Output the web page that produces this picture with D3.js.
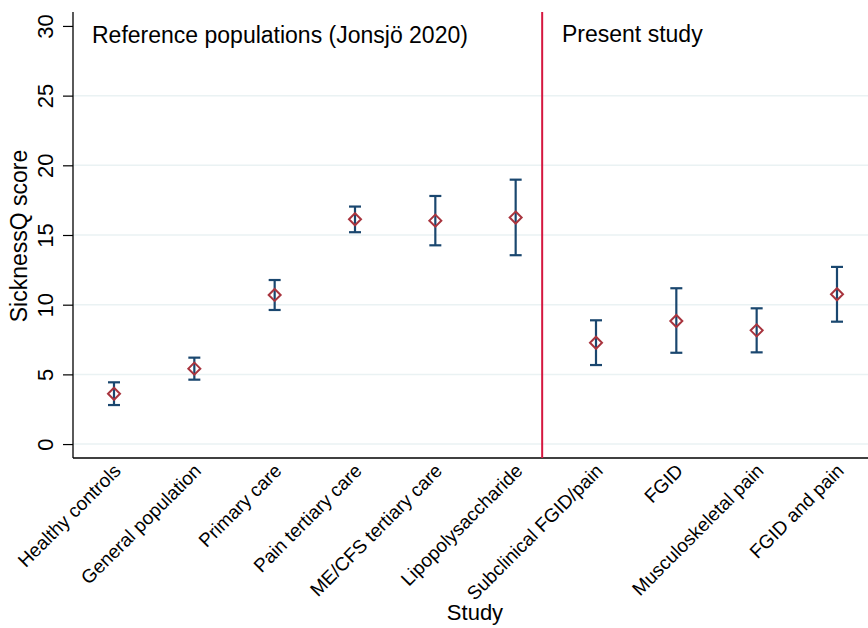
<!DOCTYPE html>
<html><head><meta charset="utf-8">
<script src="https://cdn.jsdelivr.net/npm/d3@7"></script>
<style>body{margin:0;background:#fff}svg{display:block}text{font-family:"Liberation Sans",Arial,Helvetica,sans-serif;fill:#000}</style>
</head><body>
<svg id="c" width="868" height="628"></svg>
<script>
const categories = ["Healthy controls","General population","Primary care","Pain tertiary care","ME/CFS tertiary care","Lipopolysaccharide","Subclinical FGID/pain","FGID","Musculoskeletal pain","FGID and pain"];
const means = [3.61, 5.41, 10.7, 16.13, 16.03, 16.25, 7.27, 8.83, 8.16, 10.75];
const lower = [2.8, 4.62, 9.62, 15.2, 14.26, 13.55, 5.67, 6.55, 6.58, 8.78];
const upper = [4.43, 6.2, 11.77, 17.04, 17.8, 18.97, 8.88, 11.18, 9.74, 12.71];
const yTicks = [0, 5, 10, 15, 20, 25, 30];
const gridValues = [0, 5, 10, 15, 20, 25];
const dividerPosition = 6.33;
const groupLabels = ["Reference populations (Jonsjö 2020)", "Present study"];

const svg = d3.select("#c");
const L = 73, R = 868, T = 12, B = 458;
const x = d3.scaleLinear().domain([0.4896, 10.386]).range([L, R]);
const y = d3.scaleLinear().domain([-1, 31]).range([B, T]);

// gridlines
svg.append("g").selectAll("line").data(gridValues).join("line")
  .attr("x1", L).attr("x2", R).attr("y1", d => y(d)).attr("y2", d => y(d))
  .attr("stroke", "#eaf2f3").attr("stroke-width", 1.5);

// y axis
const ya = svg.append("g").attr("transform", `translate(${L},0)`)
  .call(d3.axisLeft(y).tickValues(yTicks).tickSize(10));
ya.select(".domain").remove();
ya.selectAll(".tick line").attr("stroke", "#000").attr("stroke-width", 1.2);
ya.selectAll(".tick text").attr("font-size", 22).attr("x", 0).attr("y", 0).attr("dy", null)
  .attr("text-anchor", "middle").attr("transform", "translate(-20,0) rotate(-90)");
svg.append("line").attr("x1", L).attr("x2", L).attr("y1", T).attr("y2", B)
  .attr("stroke", "#000").attr("stroke-width", 1.3);

// x axis
svg.append("line").attr("x1", L).attr("x2", R).attr("y1", B).attr("y2", B)
  .attr("stroke", "#000").attr("stroke-width", 1.3);
svg.append("g").selectAll("text").data(categories).join("text")
  .attr("transform", (d, i) => `translate(${x(i + 1) + 8},${B + 14}) rotate(-45)`)
  .attr("text-anchor", "end").attr("font-size", 19).text(d => d);

// divider
svg.append("line").attr("x1", x(dividerPosition)).attr("x2", x(dividerPosition))
  .attr("y1", T).attr("y2", B).attr("stroke", "#d5173f").attr("stroke-width", 2);

// group labels
svg.append("text").attr("x", 92).attr("y", 43).attr("font-size", 23).text(groupLabels[0]);
svg.append("text").attr("x", 562).attr("y", 42).attr("font-size", 23).text(groupLabels[1]);

// error bars
const eb = svg.append("g").attr("stroke", "#1a476f").attr("stroke-width", 2.2).attr("fill", "none");
categories.forEach((c, i) => {
  const cx = x(i + 1);
  eb.append("line").attr("x1", cx).attr("x2", cx).attr("y1", y(lower[i])).attr("y2", y(upper[i]));
  eb.append("line").attr("x1", cx - 6).attr("x2", cx + 6).attr("y1", y(lower[i])).attr("y2", y(lower[i]));
  eb.append("line").attr("x1", cx - 6).attr("x2", cx + 6).attr("y1", y(upper[i])).attr("y2", y(upper[i]));
});

// markers
svg.append("g").selectAll("path").data(means).join("path")
  .attr("d", (d, i) => { const cx = x(i + 1), cy = y(d), s = 6; return `M${cx},${cy - s}L${cx + s},${cy}L${cx},${cy + s}L${cx - s},${cy}Z`; })
  .attr("fill", "none").attr("stroke", "#a8343e").attr("stroke-width", 2);

// axis titles
svg.append("text").attr("x", 475).attr("y", 620).attr("text-anchor", "middle").attr("font-size", 22).text("Study");
svg.append("text").attr("transform", "translate(27,236) rotate(-90)").attr("text-anchor", "middle").attr("font-size", 23).text("SicknessQ score");
</script>
</body></html>
